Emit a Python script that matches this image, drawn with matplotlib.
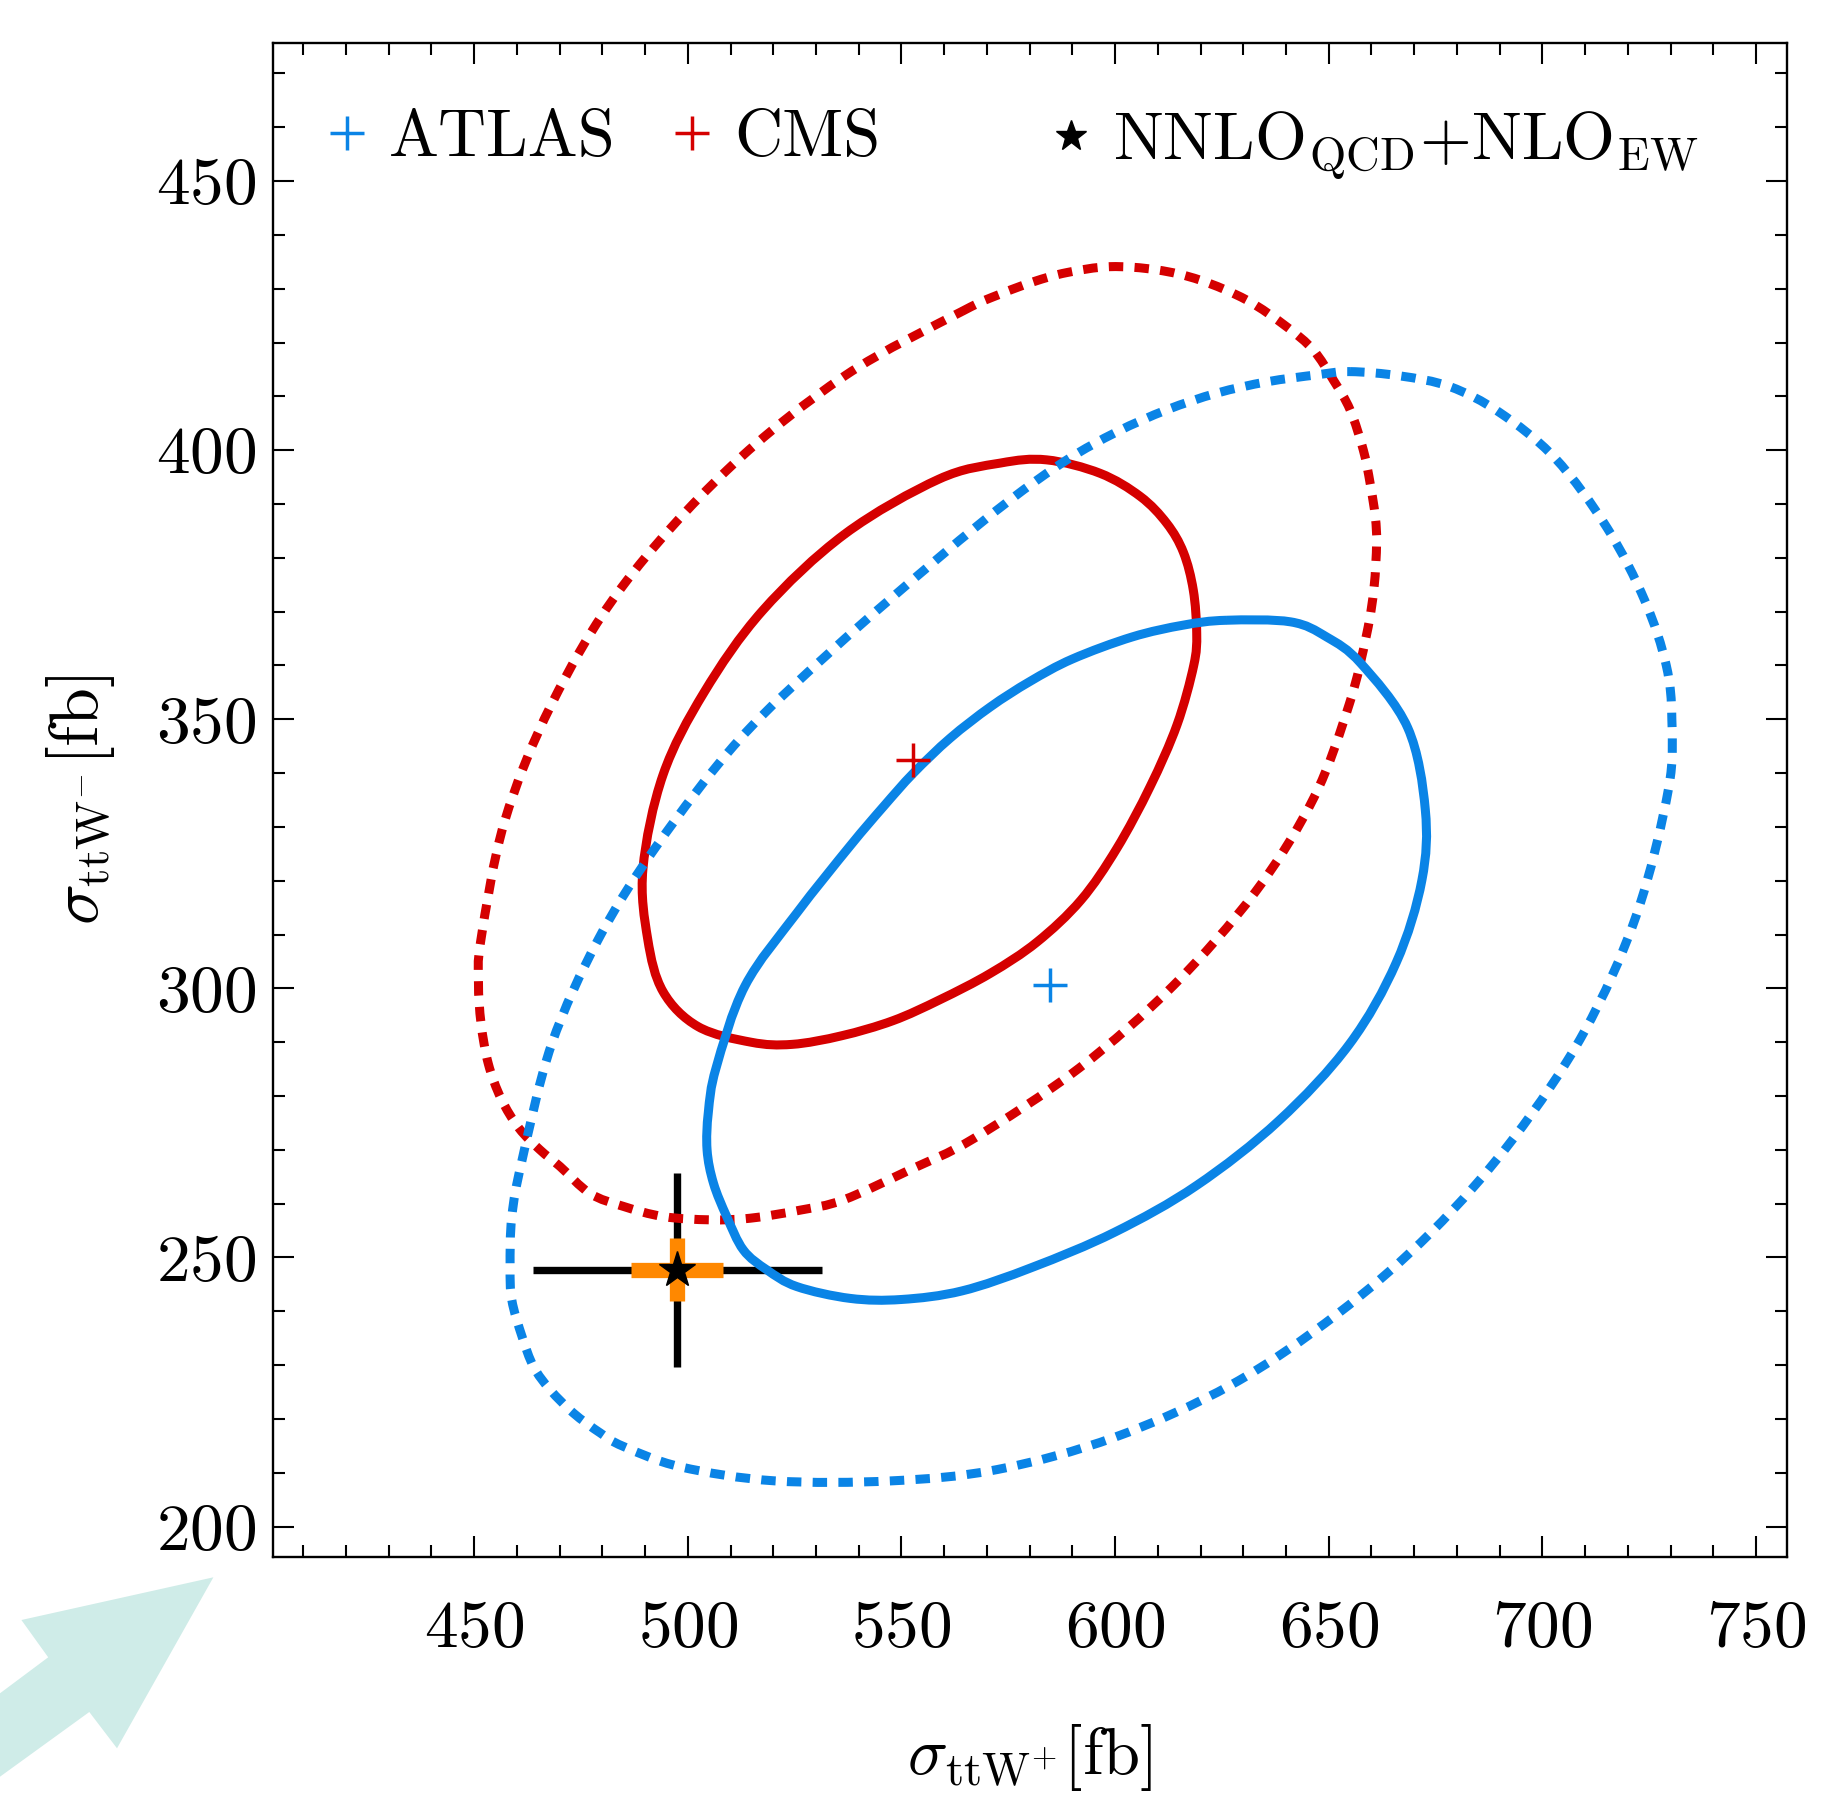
import matplotlib
matplotlib.use("Agg")
import matplotlib.pyplot as plt
from matplotlib.lines import Line2D
from matplotlib.patches import Polygon, PathPatch
from matplotlib.path import Path
from matplotlib.ticker import MultipleLocator

plt.rcParams.update({
    "font.family": "serif",
    "font.serif": ["cmr10"],
    "mathtext.fontset": "cm",
    "axes.formatter.use_mathtext": True,
    "axes.unicode_minus": False,
})

# ---------------- data ----------------
atlas_center = (584.8, 300.6)
cms_center = (552.8, 342.4)
theory_center = (497.5, 247.7)
theory_err_total = (33.8, 18.0)
theory_err_scale = (10.7, 5.85)

cms68_x = [536.7, 558.7, 573.1, 584.0, 596.5, 605.9, 612.1, 616.0, 618.3, 619.1,
           618.4, 614.5, 608.2, 600.4, 592.0, 581.7, 570.8, 559.0, 548.0, 536.0,
           524.4, 514.8, 502.4, 494.2, 490.6, 489.5, 494.2, 503.8, 517.5]
cms68_y = [384.4, 394.6, 397.6, 398.2, 395.7, 391.4, 386.4, 381.0, 374.0, 366.0,
           360.0, 349.0, 337.5, 326.0, 316.4, 308.6, 302.8, 297.9, 294.0, 291.2,
           289.6, 290.0, 292.9, 299.4, 309.2, 322.3, 339.7, 355.0, 370.2]

cms95_x = [564.2, 573.1, 580.9, 588.7, 598.8, 609.8, 619.9, 630.8, 640.2, 646.4,
           651.1, 655.0, 658.1, 659.7, 660.9, 661.2, 660.6, 658.9, 654.8, 646.5,
           632.8, 613.6, 591.6, 566.9, 552.0, 536.4, 526.3, 514.6, 505.2, 494.3,
           484.9, 477.1, 470.1, 465.4, 460.5, 456.3, 453.3, 451.6, 451.0, 451.6,
           457.1, 468.1, 484.6, 509.3, 536.7]
cms95_y = [425.8, 429.0, 431.3, 433.0, 434.1, 433.5, 431.6, 427.9, 422.9, 418.6,
           413.0, 407.5, 400.0, 393.8, 387.6, 382.7, 374.5, 365.9, 352.8, 335.4,
           317.9, 300.5, 285.2, 272.1, 266.3, 260.7, 258.8, 257.3, 257.0, 257.6,
           259.5, 261.9, 266.9, 270.0, 274.0, 279.5, 286.0, 293.5, 301.0, 309.2,
           331.0, 352.8, 374.6, 396.4, 413.8]

atlas68_x = [626.0, 641.1, 649.5, 657.5, 668.5, 672.6, 671.8, 665.8, 654.8, 638.3,
             619.1, 599.9, 580.7, 564.2, 550.0, 538.0, 525.5, 518.5, 513.0, 509.1,
             506.0, 504.5, 504.8, 506.6, 513.4, 525.5, 538.0, 545.8, 552.8, 561.4,
             570.8, 580.0, 590.0, 604.0, 616.0]
atlas68_y = [368.4, 368.1, 365.3, 360.4, 348.4, 333.2, 320.1, 304.8, 289.6, 275.4,
             263.4, 254.7, 248.2, 243.8, 242.2, 242.4, 244.6, 247.7, 251.4, 257.6,
             263.8, 270.0, 277.0, 285.2, 300.5, 314.0, 326.5, 333.8, 340.0, 346.5,
             352.3, 357.0, 361.2, 365.3, 367.5]

atlas95_x = [655.0, 666.7, 678.4, 690.0, 703.0, 715.2, 724.0, 729.0, 730.3, 729.5,
             722.0, 709.7, 693.2, 674.0, 652.0, 627.3, 599.9, 572.4, 547.7, 520.3,
             498.3, 484.9, 479.5, 473.2, 467.8, 463.9, 461.2, 458.8, 458.4, 458.8,
             461.2, 468.1, 479.1, 492.8, 512.0, 534.0, 558.7, 575.0, 588.7, 600.4,
             612.1, 623.8, 635.5, 647.2]
atlas95_y = [414.6, 413.8, 411.8, 407.0, 398.5, 385.5, 372.0, 360.0, 350.0, 337.0,
             313.6, 291.8, 272.1, 254.7, 239.5, 226.4, 216.6, 210.6, 208.5, 208.5,
             211.1, 214.9, 217.4, 221.1, 225.4, 229.7, 235.3, 242.1, 248.3, 257.6,
             268.1, 289.6, 309.2, 326.6, 346.2, 363.0, 380.0, 390.5, 398.2, 403.4,
             407.5, 410.6, 412.7, 414.0]

x_ticks = [450, 500, 550, 600, 650, 700, 750]
y_ticks = [200, 250, 300, 350, 400, 450]
legend_labels = ["ATLAS", "CMS", r"NNLO$_{\mathrm{QCD}}$+NLO$_{\mathrm{EW}}$"]

# ---------------- styles ----------------
BLUE = "#0a84e6"
RED = "#d50000"
ORANGE = "#ff8800"
ARROW = "#cfece8"
LW = 6.5
DASH = (0, (1.6, 1.25))
MS_PLUS = 24
MS_STAR = 27

W, H = 1839, 1797
fig = plt.figure(figsize=(W / 100, H / 100), dpi=100)

# decorative arrow in the lower-left corner (figure pixel coords)
arrow_px = [(213.4, 1577.3), (21.4, 1620.0), (48.2, 1657.3), (0.0, 1693.3),
            (0.0, 1776.7), (89.3, 1712.0), (117.0, 1748.3)]
fig.patches.append(Polygon([(px / W, 1 - py / H) for px, py in arrow_px],
                           closed=True, transform=fig.transFigure,
                           facecolor=ARROW, edgecolor="none", zorder=0))

ax = fig.add_axes([0.1482, 0.1334, 0.8234, 0.8428])
ax.set_xlim(402.8, 757.2)
ax.set_ylim(194.3, 475.7)


def smooth_contour_path(xs, ys):
    """Closed curve passing through the read points (cubic Bezier joins)."""
    n = len(xs)
    pts = list(zip(xs, ys))
    verts = [pts[0]]
    codes = [Path.MOVETO]
    for i in range(n):
        p0 = pts[(i - 1) % n]
        p1 = pts[i]
        p2 = pts[(i + 1) % n]
        p3 = pts[(i + 2) % n]
        c1 = (p1[0] + (p2[0] - p0[0]) / 6.0, p1[1] + (p2[1] - p0[1]) / 6.0)
        c2 = (p2[0] - (p3[0] - p1[0]) / 6.0, p2[1] - (p3[1] - p1[1]) / 6.0)
        verts += [c1, c2, p2]
        codes += [Path.CURVE4] * 3
    return Path(verts, codes)


def draw_contour(xs, ys, color, ls, z):
    ax.add_patch(PathPatch(smooth_contour_path(xs, ys), fill=False,
                           edgecolor=color, lw=LW, linestyle=ls, zorder=z,
                           capstyle="butt", joinstyle="round"))


# error bars of the prediction
ax.errorbar([theory_center[0]], [theory_center[1]],
            xerr=[theory_err_total[0]], yerr=[theory_err_total[1]],
            fmt="none", ecolor="black", elinewidth=5.3, capsize=0, zorder=2)
ax.errorbar([theory_center[0]], [theory_center[1]],
            xerr=[theory_err_scale[0]], yerr=[theory_err_scale[1]],
            fmt="none", ecolor=ORANGE, elinewidth=11, capsize=0, zorder=2.5)

# contours
draw_contour(cms95_x, cms95_y, RED, DASH, 3)
draw_contour(cms68_x, cms68_y, RED, "solid", 3)
draw_contour(atlas95_x, atlas95_y, BLUE, DASH, 4)
draw_contour(atlas68_x, atlas68_y, BLUE, "solid", 4)

# central values
ax.plot([atlas_center[0]], [atlas_center[1]], marker="+", ms=MS_PLUS, mew=2.5,
        color=BLUE, linestyle="none", zorder=6)
ax.plot([cms_center[0]], [cms_center[1]], marker="+", ms=MS_PLUS, mew=2.5,
        color=RED, linestyle="none", zorder=6)
ax.plot([theory_center[0]], [theory_center[1]], marker="*", ms=MS_STAR, mew=1,
        color="black", linestyle="none", zorder=7)

# axes styling
ax.set_xticks(x_ticks)
ax.set_yticks(y_ticks)
ax.xaxis.set_minor_locator(MultipleLocator(10))
ax.yaxis.set_minor_locator(MultipleLocator(10))
ax.tick_params(which="both", direction="in", top=True, right=True, width=1.5)
ax.tick_params(which="major", length=15, labelsize=48.5)
ax.tick_params(which="minor", length=8.8)
ax.tick_params(axis="x", which="major", pad=31)
ax.tick_params(axis="y", which="major", pad=11.5)
for s in ax.spines.values():
    s.set_linewidth(1.7)

ax.set_xlabel(r"$\sigma_{\mathrm{ttW}^{+}}[\mathrm{fb}]$", fontsize=48)
ax.set_ylabel(r"$\sigma_{\mathrm{ttW}^{-}}[\mathrm{fb}]$", fontsize=49)
ax.xaxis.set_label_coords(0.5, -0.109)
ax.yaxis.set_label_coords(-0.1027, 0.5)

# legends
h_atlas = Line2D([], [], color=BLUE, marker="+", ms=MS_PLUS, mew=2.5, linestyle="none")
h_cms = Line2D([], [], color=RED, marker="+", ms=MS_PLUS, mew=2.5, linestyle="none")
h_th = Line2D([], [], color="black", marker="*", ms=MS_STAR - 4, mew=1, linestyle="none")
common = dict(frameon=False, fontsize=48, handlelength=0.8, handletextpad=0.23,
              borderpad=0, borderaxespad=0, loc="upper left")
leg1 = ax.legend([h_atlas, h_cms], legend_labels[:2], ncol=2, columnspacing=0.75,
                 bbox_to_anchor=(0.0314, 0.956), **common)
ax.add_artist(leg1)
ax.legend([h_th], legend_labels[2:], bbox_to_anchor=(0.510, 0.956), **common)

fig.savefig("out.png", dpi=100)
